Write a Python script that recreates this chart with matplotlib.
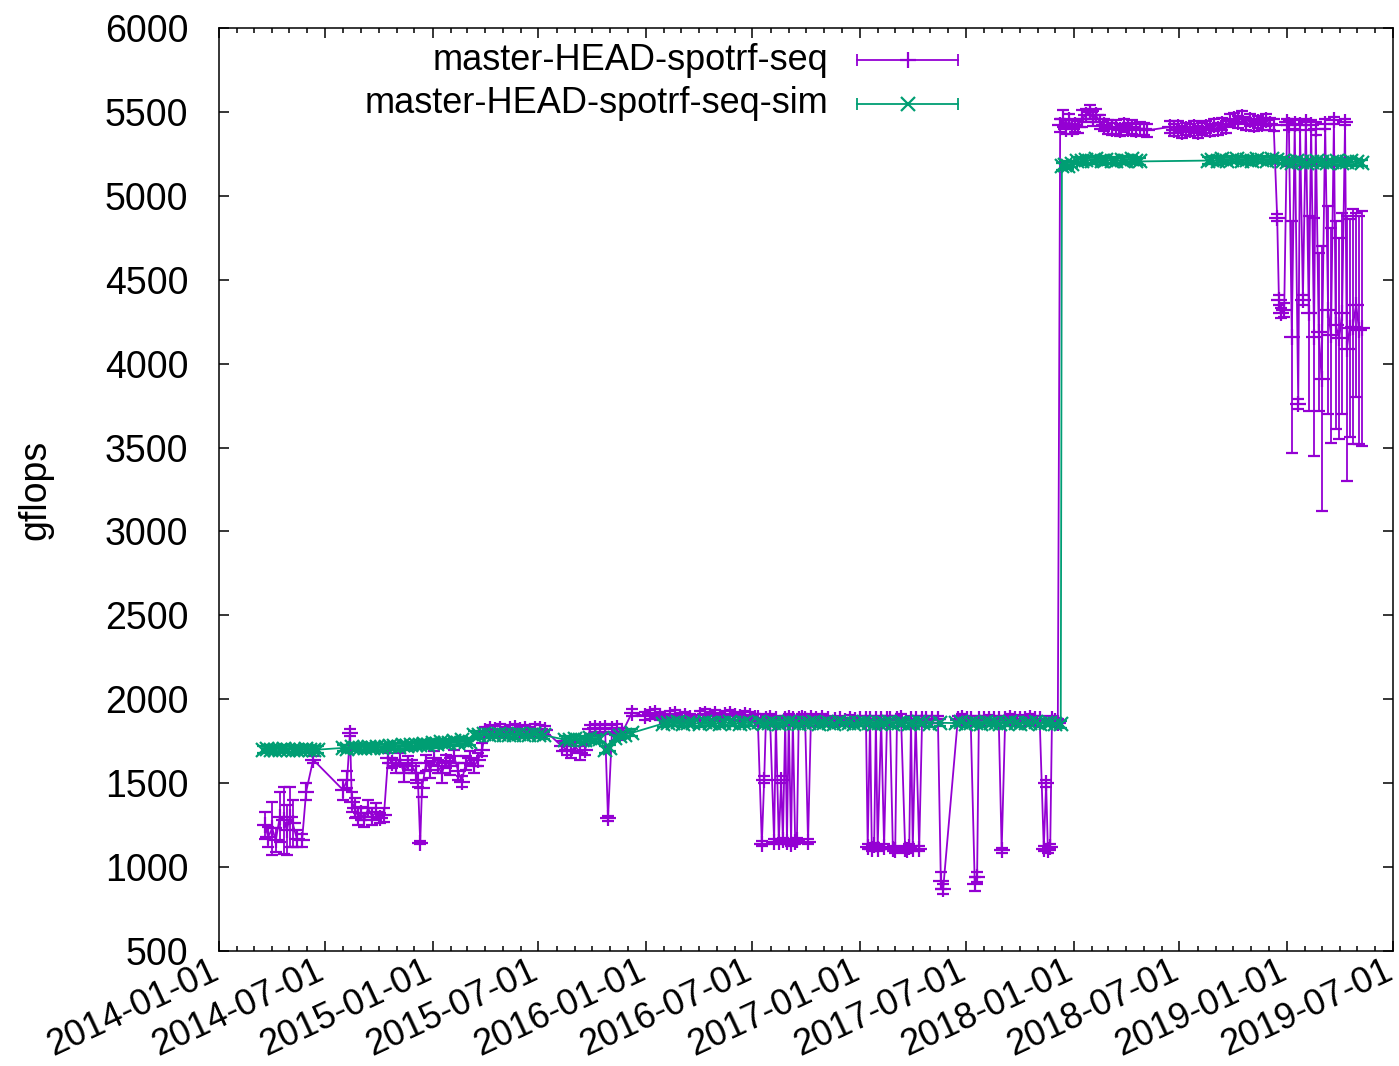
import numpy as np
import matplotlib
matplotlib.use('Agg')
import matplotlib.pyplot as plt
import matplotlib.dates as mdates
import matplotlib.transforms as mtransforms

plt.rcParams['font.family'] = ['Liberation Sans', 'DejaVu Sans']

# days since 2014-01-01, gflops, error (half width)
seq_days = [79, 84, 91, 97, 104, 111, 116, 121, 126, 133, 142, 149, 161,
            212, 219, 224, 227, 232, 238, 243, 248, 255, 262, 268, 275, 282, 289,
            296, 303, 309, 316, 323, 330, 337, 340, 344, 347, 354, 361, 368, 374, 381, 388, 395, 402, 409, 415, 422, 429, 436, 443, 450,
            455, 463, 472, 480, 489, 497, 506, 515, 523, 532, 540, 549, 557,
            586, 595, 602, 609, 617, 626, 634, 643, 651, 660, 665, 672, 680, 689, 706,
            728, 737, 745, 754, 762, 771, 779, 788, 797, 805, 822, 831, 839, 848, 856, 865, 874, 882, 891, 899, 908, 916,
            921, 928, 932, 935, 942, 949, 952, 957, 961, 964, 968, 971, 974, 978, 981, 985, 988, 991, 997, 1002, 1007, 1012, 1021, 1031, 1041,
            1053, 1062, 1070, 1079, 1087, 1096,
            1106, 1109, 1113, 1116, 1120, 1123, 1126, 1132, 1137, 1142, 1147, 1152, 1156, 1159, 1166, 1173, 1176, 1180, 1183, 1186, 1191, 1197, 1202, 1209, 1219,
            1229, 1234, 1238, 1263, 1270, 1279, 1285, 1292, 1296, 1299, 1308, 1316, 1325, 1333, 1338, 1344, 1352, 1361, 1369, 1378, 1386, 1395, 1403, 1410, 1414, 1417, 1421, 1424, 1429, 1434,
            1438, 1443, 1448, 1453, 1458, 1463, 1468, 1475, 1482, 1489, 1494, 1499, 1506, 1513, 1520, 1527, 1533, 1540, 1547, 1554, 1561, 1568, 1574, 1581, 1586,
            1626, 1632, 1639, 1646, 1653, 1660, 1667, 1674, 1680, 1687, 1694, 1701, 1708, 1715, 1721, 1728, 1735, 1742, 1749, 1756, 1762, 1769, 1776, 1783, 1790, 1797, 1803,
            1809, 1812, 1815, 1821,
            1826, 1829, 1834, 1839, 1845, 1848, 1853, 1858, 1863, 1867, 1872, 1875, 1880, 1885, 1891, 1896, 1901, 1906, 1909, 1915, 1920, 1925, 1928, 1933, 1938, 1944, 1949, 1954]
seq_gflops = [1250, 1180, 1230, 1160, 1300, 1280, 1220, 1300, 1260, 1170, 1160, 1450, 1640,
              1460, 1520, 1800, 1390, 1350, 1300, 1320, 1280, 1350, 1300, 1330, 1290, 1310, 1650,
              1620, 1600, 1640, 1560, 1620, 1600, 1560, 1520, 1145, 1470, 1620, 1580, 1650, 1600, 1560, 1630, 1600, 1660, 1570, 1510, 1620, 1650, 1600, 1640, 1700,
              1810, 1820, 1815, 1825, 1810, 1820, 1830, 1815, 1820, 1810, 1825, 1820, 1815,
              1720, 1700, 1690, 1720, 1680, 1700, 1820, 1830, 1820, 1830, 1290, 1820, 1830, 1800, 1920,
              1900, 1910, 1920, 1900, 1890, 1905, 1910, 1895, 1900, 1890, 1905, 1915, 1900, 1910, 1895, 1905, 1910, 1900, 1895, 1905, 1900, 1890,
              1890, 1140, 1520, 1880, 1890, 1150, 1880, 1150, 1520, 1160, 1880, 1150, 1890, 1140, 1880, 1150, 1160, 1880, 1890, 1880, 1150, 1890, 1880, 1890, 1880,
              1875, 1880, 1870, 1885, 1875, 1880,
              1880, 1120, 1880, 1110, 1130, 1880, 1110, 1880, 1120, 1880, 1880, 1110, 1100, 1880, 1890, 1110, 1100, 1120, 1880, 1110, 1880, 1110, 1880, 1880, 1880,
              1880, 920, 870, 1880, 1890, 1880, 1880, 900, 940, 1880, 1880, 1885, 1880, 1880, 1100, 1880, 1890, 1880, 1885, 1880, 1890, 1880, 1880, 1110, 1500, 1100, 1120, 1880, 1870, 1860,
              5420, 5460, 5400, 5450, 5400, 5420, 5410, 5460, 5480, 5500, 5460, 5480, 5440, 5420, 5410, 5400, 5410, 5390, 5420, 5400, 5410, 5390, 5400, 5400, 5390,
              5410, 5390, 5410, 5380, 5400, 5390, 5410, 5380, 5400, 5410, 5390, 5420, 5400, 5430, 5410, 5450, 5460, 5440, 5470, 5430, 5450, 5420, 5440, 5430, 5450, 5430, 5420,
              4870, 4380, 4300, 4320,
              5440, 5420, 4160, 5430, 3760, 5420, 4380, 5440, 4300, 5420, 4160, 5400, 4190, 3910, 5430, 4320, 4170, 5450, 4230, 4150, 4300, 5440, 4090, 4210, 4220, 4350, 4200, 4210]
seq_err = ([80, 60, 160, 70, 150, 200, 150, 180, 140, 50, 40, 50, 20]
           + [60, 50, 20, 60, 60, 50, 40, 40, 50, 50, 50, 30, 40, 30]
           + [30, 40, 40, 50, 40, 40, 60, 40, 10, 50, 50, 50, 40, 40, 60, 40, 50, 40, 50, 30, 40, 40, 40, 40, 40]
           + [25] * 13
           + [30, 30, 40, 30, 40, 30, 25, 25, 25, 25, 15, 25, 25, 30, 20]
           + [25] * 22
           + [20, 15, 20, 20, 20, 15, 20, 15, 20, 15, 20, 15, 20, 15, 20, 15, 15, 20, 20, 20, 15, 20, 20, 20, 20]
           + [20] * 6
           + [20, 15, 20, 15, 15, 20, 15, 20, 15, 20, 20, 15, 15, 20, 20, 15, 15, 15, 20, 15, 20, 15, 20, 20, 20]
           + [20, 50, 30, 20, 20, 20, 20, 40, 30, 20, 20, 20, 20, 20, 15, 20, 20, 20, 20, 20, 20, 20, 20, 15, 20, 15, 15, 20, 20, 20]
           + [40, 50, 30, 40, 30, 40, 35, 50, 40, 40, 45, 40, 40, 35, 40, 35, 40, 35, 40, 35, 40, 35, 40, 35, 40]
           + [35] * 27
           + [20, 30, 30, 40]
           + [20, 30, 690, 30, 30, 30, 30, 20, 580, 30, 710, 40, 470, 790, 30, 620, 640, 20, 620, 600, 600, 20, 790, 650, 700, 550, 680, 700])

sim_days = [75, 82, 89, 96, 104, 111, 118, 126, 133, 140, 148, 155, 162, 169,
            212, 219, 227, 234, 241, 249, 256, 263, 270, 278, 285, 292, 300, 307, 314, 322, 329, 336, 343, 351, 358, 365, 372, 380, 387, 394, 402, 409, 416, 423, 429,
            436, 444, 453, 462, 470, 479, 487, 496, 504, 513, 521, 530, 538, 547, 556,
            591, 600, 609, 617, 626, 634, 643, 651, 660, 668, 677, 686, 694, 706,
            759, 767, 776, 784, 793, 801, 810, 822, 830, 839, 847, 856, 864, 873, 881, 890, 898, 907, 924, 932,
            941, 949, 958, 966, 975, 983, 992, 1000, 1009, 1017, 1026, 1034, 1043, 1051, 1060, 1068, 1077, 1085, 1094, 1102,
            1111, 1119, 1128, 1136, 1145, 1153, 1162, 1170, 1179, 1187, 1196, 1204, 1215, 1232, 1260, 1268, 1277, 1285, 1294, 1302,
            1311, 1319, 1328, 1336, 1345, 1353, 1362, 1370, 1379, 1387, 1396, 1404, 1413, 1421, 1430, 1439,
            1441, 1446, 1451, 1458, 1466, 1475, 1483, 1492, 1500, 1509, 1517, 1526, 1534, 1543, 1551, 1560, 1568, 1574,
            1690, 1698, 1707, 1715, 1724, 1732, 1741, 1749, 1758, 1766, 1775, 1783, 1792, 1800, 1809, 1819,
            1826, 1834, 1843, 1851, 1860, 1868, 1877, 1885, 1894, 1902, 1911, 1919, 1928, 1936, 1945, 1954]
sim_gflops = [1700, 1705, 1700, 1695, 1700, 1705, 1700, 1700, 1695, 1700, 1705, 1700, 1700, 1700,
              1710, 1705, 1715, 1710, 1712, 1708, 1715, 1710, 1718, 1712, 1715, 1720, 1722, 1718, 1725, 1720, 1728, 1725, 1730, 1735, 1728, 1740, 1732, 1745, 1738, 1742, 1750, 1740, 1755, 1748, 1745,
              1790, 1785, 1792, 1788, 1790, 1795, 1788, 1790, 1785, 1792, 1790, 1788, 1795, 1790, 1785,
              1760, 1755, 1765, 1760, 1755, 1770, 1760, 1765, 1700, 1710, 1770, 1780, 1790, 1800,
              1855, 1860, 1858, 1862, 1855, 1860, 1858, 1855, 1862, 1860, 1858, 1855, 1860, 1862, 1858, 1855, 1860, 1858, 1862, 1855,
              1860, 1858, 1855, 1860, 1862, 1858, 1855, 1860, 1858, 1862, 1855, 1860, 1858, 1855, 1862, 1860, 1858, 1855, 1860, 1862,
              1858, 1855, 1860, 1858, 1862, 1855, 1860, 1858, 1855, 1860, 1862, 1858, 1855, 1860, 1858, 1862, 1855, 1860, 1858, 1855,
              1862, 1860, 1858, 1855, 1860, 1862, 1858, 1855, 1860, 1858, 1862, 1855, 1860, 1858, 1855, 1850,
              5175, 5185, 5180, 5190, 5210, 5205, 5215, 5210, 5220, 5205, 5215, 5210, 5205, 5215, 5210, 5220, 5210, 5205,
              5210, 5215, 5205, 5220, 5210, 5215, 5220, 5210, 5215, 5205, 5220, 5215, 5210, 5220, 5215, 5210,
              5200, 5195, 5205, 5200, 5195, 5200, 5205, 5200, 5195, 5200, 5205, 5195, 5200, 5205, 5200, 5195]
sim_err = 20

purple = '#9400d3'
green = '#009e73'
fs = 27
fs_small = 26

start = np.datetime64('2014-01-01')
seq_x = start + np.array(seq_days).astype('timedelta64[D]')
sim_x = start + np.array(sim_days).astype('timedelta64[D]')

fig = plt.figure(figsize=(13.99, 10.66), dpi=100)
ax = fig.add_axes([219 / 1399, 1 - 951 / 1066, 1174 / 1399, 923 / 1066])

ax.errorbar(seq_x, seq_gflops, yerr=seq_err, fmt='-+', color=purple, lw=1.3,
            elinewidth=1.3, capsize=4, capthick=1.3, markersize=12, markeredgewidth=1.6)
ax.errorbar(sim_x, sim_gflops, yerr=sim_err, fmt='-x', color=green, lw=1.3,
            elinewidth=1.3, capsize=4, capthick=1.3, markersize=10, markeredgewidth=1.6)

ax.set_xlim(np.datetime64('2014-01-01'), np.datetime64('2019-07-01'))
ax.set_ylim(500, 6000)
ax.set_yticks(np.arange(500, 6001, 500))
ax.xaxis.set_major_locator(mdates.MonthLocator(bymonth=[1, 7]))
ax.xaxis.set_minor_locator(mdates.MonthLocator())
ax.xaxis.set_major_formatter(mdates.DateFormatter('%Y-%m-%d'))

ax.tick_params(which='both', direction='in', top=True, right=True, width=1.1)
ax.tick_params(which='major', length=7)
ax.tick_params(which='minor', length=3.5)
ax.tick_params(axis='y', labelsize=fs, pad=22)
ax.tick_params(axis='x', labelsize=fs_small, pad=2)
shift = mtransforms.ScaledTranslation(-0.1, 0, fig.dpi_scale_trans)
for lab in ax.get_xticklabels():
    lab.set_rotation(25)
    lab.set_ha('right')
    lab.set_va('top')
    lab.set_rotation_mode('anchor')
    lab.set_transform(lab.get_transform() + shift)
for s in ax.spines.values():
    s.set_linewidth(1.1)

ax.set_ylabel('gflops', fontsize=fs)
ax.yaxis.set_label_coords(-0.141, 0.5)

# gnuplot style key
key = [('master-HEAD-spotrf-seq', purple, '+', 0.9653),
       ('master-HEAD-spotrf-seq-sim', green, 'x', 0.9177)]
for name, col, mk, ky in key:
    ax.text(0.5187, ky, name, transform=ax.transAxes, ha='right', va='center', fontsize=fs_small)
    ax.plot([0.5434, 0.6295], [ky, ky], color=col, lw=1.3, transform=ax.transAxes)
    ax.plot([0.5434, 0.6295], [ky, ky], ls='none', marker='|', ms=9, mew=1.3,
            color=col, transform=ax.transAxes)
    ax.plot([0.5865], [ky], ls='none', marker=mk, ms=12 if mk == '+' else 10, mew=1.6,
            color=col, transform=ax.transAxes)

fig.savefig('out.png', dpi=100)
